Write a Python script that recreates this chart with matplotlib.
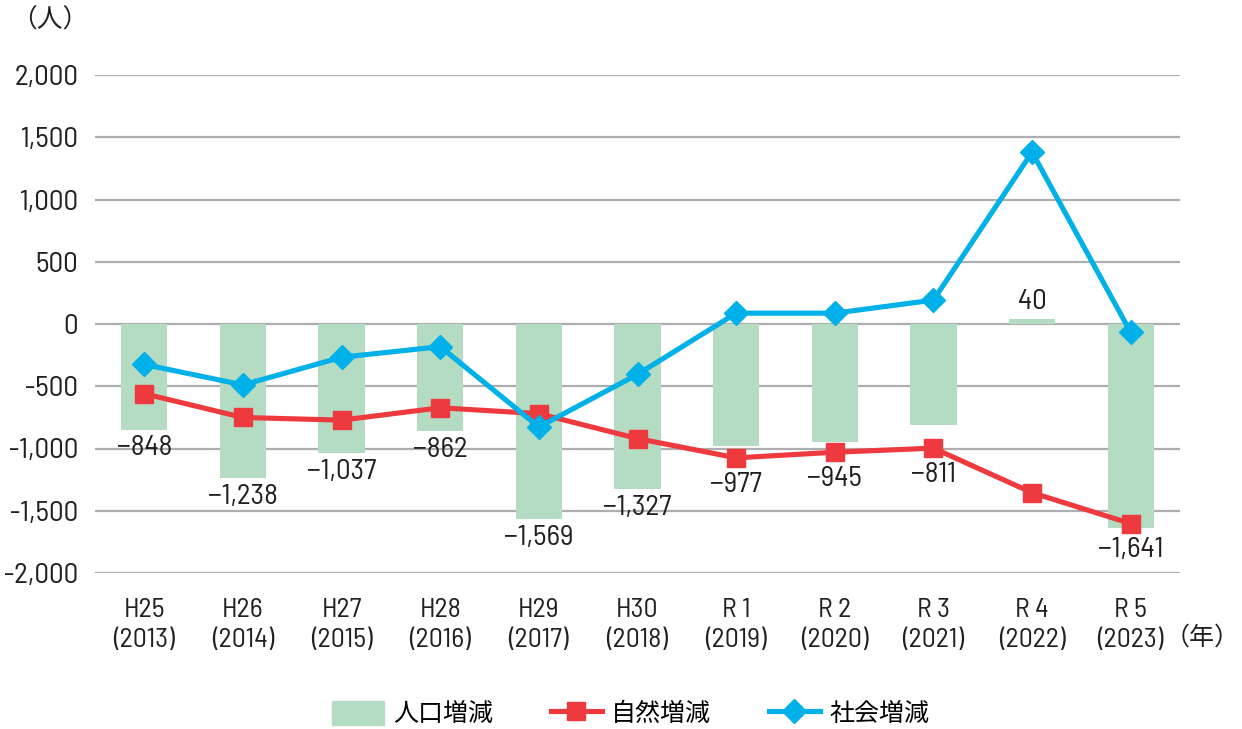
import matplotlib
matplotlib.use("Agg")
import matplotlib.pyplot as plt
from matplotlib.lines import Line2D
from matplotlib.patches import Patch

plt.rcParams['font.family'] = ['Barlow Semi Condensed', 'Noto Sans CJK JP', 'DejaVu Sans']
JP = ['Noto Sans CJK JP', 'DejaVu Sans']

# data
eras = ["H25", "H26", "H27", "H28", "H29", "H30", "R 1", "R 2", "R 3", "R 4", "R 5"]
years = ["2013", "2014", "2015", "2016", "2017", "2018", "2019", "2020", "2021", "2022", "2023"]
total = [-848, -1238, -1037, -862, -1569, -1327, -977, -945, -811, 40, -1641]
natural = [-560, -751, -772, -673, -720, -920, -1075, -1030, -997, -1355, -1603]
social = [-325, -489, -267, -182, -827, -405, 87, 87, 192, 1380, -67]

GREEN = "#b3dcc2"
RED = "#ee3a3e"
BLUE = "#00b1e9"
GRID = "#aeaeb0"
INK = "#231f20"

fig = plt.figure(figsize=(12.42, 7.29), dpi=100)
ax = fig.add_axes([95 / 1242, 1 - 573 / 729, (1180 - 95) / 1242, (573 - 75) / 729])

x = list(range(len(eras)))
ax.bar(x, total, width=0.47, color=GREEN, zorder=2)
ax.plot(x, natural, color=RED, lw=3.7, marker="s", ms=13, zorder=3)
ax.plot(x, social, color=BLUE, lw=3.7, marker="D", ms=12.5, zorder=4)

ax.set_xlim(-0.5, len(eras) - 0.5)
ax.set_ylim(-2000, 2000)
yt = list(range(-2000, 2001, 500))
ax.set_yticks(yt)
ax.set_yticklabels([f"{v:,}" for v in yt])
ax.yaxis.grid(True, color=GRID, lw=1.6, zorder=1)
ax.set_axisbelow(True)
for s in ax.spines.values():
    s.set_visible(False)
ax.tick_params(axis="y", length=0, pad=12, labelsize=21, labelcolor=INK)
ax.tick_params(axis="x", length=0, pad=18, labelsize=20, labelcolor=INK)
ax.set_xticks(x)
ax.set_xticklabels([f"{e}\n({y})" for e, y in zip(eras, years)], linespacing=1.3)

# value labels for the bars
for i, v in enumerate(total):
    if v >= 0:
        ax.annotate(f"{v:,}", (i, v), xytext=(0, 12), textcoords="offset points",
                    ha="center", va="center", fontsize=21, color=INK)
    else:
        low = min(v, natural[i] - 64)
        ax.annotate(f"{v:,}".replace("-", "\u2212"), (i, low), xytext=(0, -13.5),
                    textcoords="offset points", ha="center", va="center",
                    fontsize=21, color=INK)

fig.text(50 / 1242, 1 - 21 / 729, "（人）", fontsize=18.5, ha="center", va="center",
         color=INK, family=JP)
fig.text(1240 / 1242, 1 - 638 / 729, "（年）", fontsize=18, ha="right", va="center",
         color=INK, family=JP)

handles = [
    Patch(color=GREEN),
    Line2D([], [], color=RED, lw=3.7, marker="s", ms=13),
    Line2D([], [], color=BLUE, lw=3.7, marker="D", ms=12.5),
]
fig.legend(handles, ["人口増減", "自然増減", "社会増減"], loc="center",
           bbox_to_anchor=(0.508, 1 - 714 / 729), ncol=3, frameon=False,
           prop={'family': JP, 'size': 18}, handlelength=2.05, handleheight=1.1,
           columnspacing=2.3, handletextpad=0.38)

fig.savefig("out.png", dpi=100)
